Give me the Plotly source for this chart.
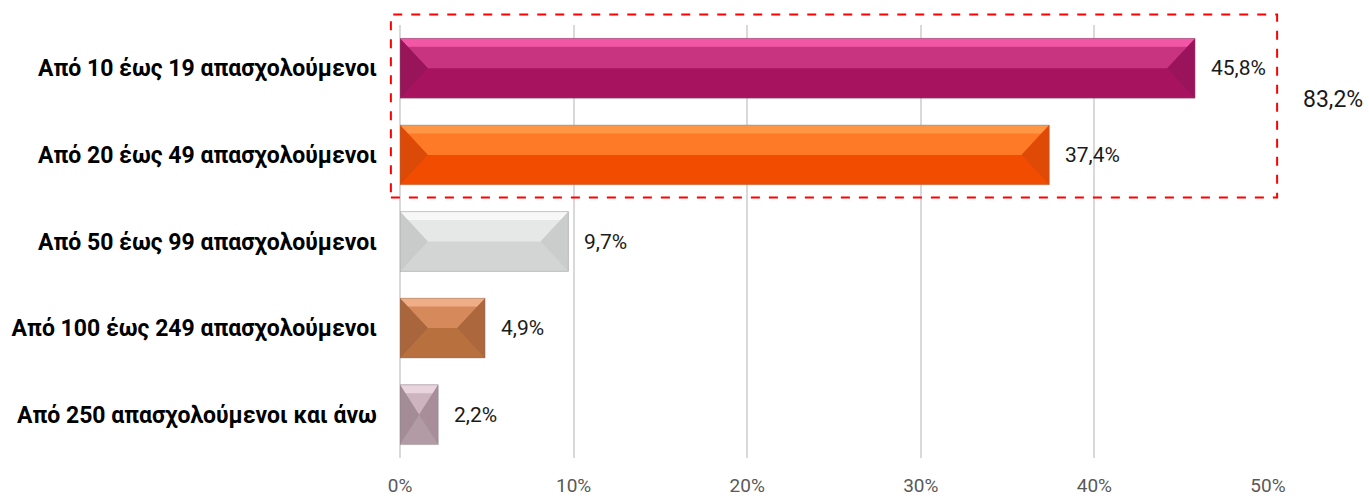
import plotly.graph_objects as go

categories = [
    "Από 10 έως 19 απασχολούμενοι",
    "Από 20 έως 49 απασχολούμενοι",
    "Από 50 έως 99 απασχολούμενοι",
    "Από 100 έως 249 απασχολούμενοι",
    "Από 250 απασχολούμενοι και άνω",
]
values = [45.8, 37.4, 9.7, 4.9, 2.2]
value_labels = ["45,8%", "37,4%", "9,7%", "4,9%", "2,2%"]
group_total_label = "83,2%"
x_ticks = [0, 10, 20, 30, 40, 50]
x_ticklabels = ["0%", "10%", "20%", "30%", "40%", "50%"]

# colours: main (bottom face), top face, top highlight, end faces
main_colors = ["#A8135F", "#F24C00", "#D3D5D4", "#B8703F", "#B39BA5"]
top_colors = ["#C8347F", "#FF7A26", "#E6E7E7", "#D68A5C", "#CDB4BF"]
hi_colors = ["#F257A6", "#FF9645", "#F7F7F7", "#F0AE86", "#E9D4DE"]
end_colors = ["#98155A", "#DC4A08", "#C9CBCA", "#A9653C", "#A48C97"]

FONT = "Roboto, Liberation Sans, sans-serif"
BAR_W = 0.69
BEVEL = 1.6  # in x units (%)

ys = list(range(len(categories)))

fig = go.Figure()
fig.add_trace(go.Bar(
    x=values, y=ys, orientation="h", width=BAR_W,
    marker=dict(color=main_colors, line=dict(width=0)),
    hoverinfo="x+y", showlegend=False,
))

shapes = []
for i, v in enumerate(values):
    top = i - BAR_W / 2
    bot = i + BAR_W / 2
    d = min(BEVEL, v / 2)
    # top face
    shapes.append(dict(type="path", xref="x", yref="y", layer="above",
                       path=f"M0,{top} L{v},{top} L{v-d},{i} L{d},{i} Z",
                       fillcolor=top_colors[i], line=dict(width=0)))
    # top highlight strip
    hh = BAR_W * 0.14
    shapes.append(dict(type="path", xref="x", yref="y", layer="above",
                       path=f"M0,{top} L{v},{top} L{v - d*0.28},{top+hh} L{d*0.28},{top+hh} Z",
                       fillcolor=hi_colors[i], line=dict(width=0)))
    # left end
    shapes.append(dict(type="path", xref="x", yref="y", layer="above",
                       path=f"M0,{top} L{d},{i} L0,{bot} Z",
                       fillcolor=end_colors[i], line=dict(width=0)))
    # right end
    shapes.append(dict(type="path", xref="x", yref="y", layer="above",
                       path=f"M{v},{top} L{v-d},{i} L{v},{bot} Z",
                       fillcolor=end_colors[i], opacity=0.85, line=dict(width=0)))
    # outline
    shapes.append(dict(type="rect", xref="x", yref="y", layer="above",
                       x0=0, x1=v, y0=top, y1=bot,
                       fillcolor="rgba(0,0,0,0)", line=dict(width=1, color="rgba(120,120,120,0.35)")))

# dashed group box (paper coords)
shapes.append(dict(type="rect", xref="paper", yref="paper",
                   x0=-0.0105, x1=1.0105, y0=0.6016, y1=1.024,
                   line=dict(color="#FF0000", width=2, dash="dash"),
                   fillcolor="rgba(0,0,0,0)"))

annotations = []
for i, v in enumerate(values):
    annotations.append(dict(x=v, y=i, xref="x", yref="y", text=value_labels[i],
                            showarrow=False, xanchor="left", yanchor="middle", xshift=14,
                            font=dict(family=FONT, size=21, color="#1A1A1A")))
annotations.append(dict(x=1.1118, y=0.827, xref="paper", yref="paper", text=group_total_label,
                        showarrow=False, xanchor="right", yanchor="middle",
                        font=dict(family=FONT, size=23, color="#1A1A1A")))

fig.update_layout(
    width=1369, height=496,
    margin=dict(l=400, r=101, t=25, b=38),
    paper_bgcolor="white", plot_bgcolor="white",
    shapes=shapes, annotations=annotations,
    showlegend=False,
    xaxis=dict(range=[0, 50], tickvals=x_ticks, ticktext=x_ticklabels,
               showgrid=True, gridcolor="#D9D9D9", gridwidth=2,
               zeroline=True, zerolinecolor="#D9D9D9", zerolinewidth=2,
               showline=False, ticks="", automargin=False,
               tickfont=dict(family=FONT, size=19, color="#595959"),
               ticklabelstandoff=14),
    yaxis=dict(range=[4.5, -0.5], tickvals=ys, ticktext=categories,
               showgrid=False, zeroline=False, showline=False, ticks="",
               automargin=False,
               tickfont=dict(family=FONT, size=23, color="#000000", weight="bold"),
               ticklabelstandoff=22),
)

fig.write_html(
    "out.html",
    config={"displayModeBar": False},
    post_script="document.body.style.margin='0';document.body.style.overflow='hidden';",
)
